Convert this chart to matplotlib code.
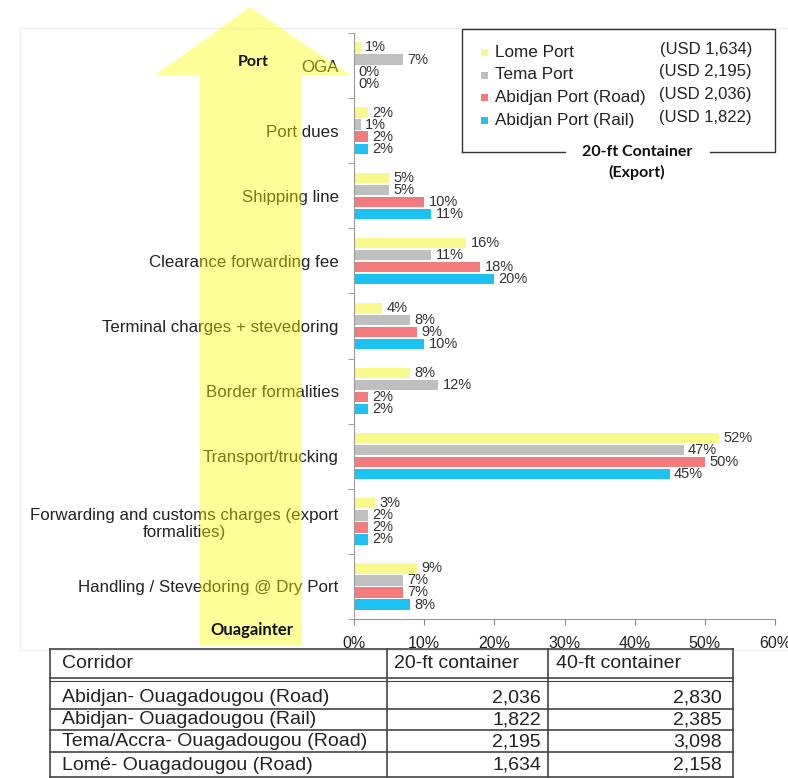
import numpy as np
import matplotlib.pyplot as plt
from matplotlib.patches import Polygon, Rectangle

plt.rcParams['font.family'] = ['Liberation Sans', 'DejaVu Sans']

# cost breakdown per 20-ft export container (share of total, %)
categories = ["OGA", "Port dues", "Shipping line", "Clearance forwarding fee",
              "Terminal charges + stevedoring", "Border formalities",
              "Transport/trucking",
              "Forwarding and customs charges (export\nformalities)",
              "Handling / Stevedoring @ Dry Port"]
ports = ["Lome Port", "Tema Port", "Abidjan Port (Road)", "Abidjan Port (Rail)"]
port_totals = ["(USD 1,634)", "(USD 2,195)", "(USD 2,036)", "(USD 1,822)"]
lome = [1, 2, 5, 16, 4, 8, 52, 3, 9]
tema = [7, 1, 5, 11, 8, 12, 47, 2, 7]
abidjan_road = [0, 2, 10, 18, 9, 2, 50, 2, 7]
abidjan_rail = [0, 2, 11, 20, 10, 2, 45, 2, 8]
colors = ["#f8f88c", "#bfbfbf", "#f47b7b", "#1cc2f2"]

# corridor totals table (USD)
table_header = ["Corridor", "20-ft container", "40-ft container"]
corridors = ["Abidjan- Ouagadougou (Road)", "Abidjan- Ouagadougou (Rail)",
             "Tema/Accra- Ouagadougou (Road)", "Lomé- Ouagadougou (Road)"]
cost_20ft = ["2,036", "1,822", "2,195", "1,634"]
cost_40ft = ["2,830", "2,385", "3,098", "2,158"]

W, H = 788, 778
fig = plt.figure(figsize=(W / 100, H / 100), dpi=100)

ax = fig.add_axes([354 / W, 1 - 619 / H, 421 / W, 586 / H])
series = [lome, tema, abidjan_road, abidjan_rail]
y = np.arange(len(categories))
step, bh = 0.185, 0.16
for k, (vals, col) in enumerate(zip(series, colors)):
    pos = y + (k - 1.5) * step
    ax.barh(pos, vals, height=bh, color=col, zorder=2)
    for p, v in zip(pos, vals):
        ax.text(v + 0.6, p, f"{v}%", va="center", ha="left",
                fontsize=10.5, color="#333333")

ax.set_xlim(0, 60)
ax.set_ylim(len(categories) - 0.5, -0.5)
ax.set_xticks(range(0, 61, 10))
ax.set_xticklabels([f"{t}%" for t in range(0, 61, 10)], fontsize=11.5, color="#222222")
ax.set_yticks(y)
ax.set_yticklabels(categories, fontsize=12.2, color="#222222")
for lab in ax.get_yticklabels():
    lab.set_multialignment("center")
ax.set_yticks(np.arange(-0.5, len(categories)), minor=True)
ax.tick_params(axis="y", which="major", length=0, pad=11)
ax.tick_params(axis="y", which="minor", length=4, color="#888888")
ax.tick_params(axis="x", length=4, color="#888888", pad=8)
for s in ["top", "right"]:
    ax.spines[s].set_visible(False)
for s in ["left", "bottom"]:
    ax.spines[s].set_color("#999999")

# overlay in pixel coordinates for arrow, legend and table
ov = fig.add_axes([0, 0, 1, 1], zorder=5)
ov.set_xlim(0, W)
ov.set_ylim(H, 0)
ov.axis("off")

ov.add_patch(Rectangle((20, 28), 780, 622, fill=False, ec="#f0f0f0", lw=1))

arrow = [(250, 7), (350, 75), (302, 75), (302, 645), (200, 645),
         (200, 75), (155, 75)]
ov.add_patch(Polygon(arrow, closed=True, fc="#ffff00", ec="none", alpha=0.4))
ov.text(253, 62, "Port", fontsize=11.5, fontweight="bold", family="Lato",
        ha="center", va="center", color="#111111")
ov.text(252, 630, "Ouagainter", fontsize=12, fontweight="bold", family="Lato",
        ha="center", va="center", color="#111111")

# legend box
ov.plot([462, 462, 775, 775, 710], [152, 29, 29, 152, 152], color="#333333", lw=1)
ov.plot([462, 565], [152, 152], color="#333333", lw=1)
ov.text(637, 152, "20-ft Container", fontsize=11.5, fontweight="bold", family="Lato",
        ha="center", va="center", color="#111111")
ov.text(637, 172, "(Export)", fontsize=11.5, fontweight="bold", family="Lato",
        ha="center", va="center", color="#111111")
for i, (name, tot, col) in enumerate(zip(ports, port_totals, colors)):
    yy = 52 + i * 22.7
    ov.add_patch(Rectangle((481, yy - 3), 7, 7, fc=col, ec="none"))
    ov.text(495, yy, name, fontsize=12.3, va="center", ha="left", color="#222222")
    ov.text(752, yy - 3, tot, fontsize=12, va="center", ha="right", color="#222222")

# table
tl, tr = 50, 733
cols = [387, 548]
hlines = [649, 678, 709, 730, 752, 777]
lc = "#444444"
for yy in hlines:
    ov.plot([tl, tr], [yy, yy], color=lc, lw=1.2)
ov.plot([tl, tr], [681, 681], color=lc, lw=0.8)
for xx in [tl] + cols + [tr]:
    ov.plot([xx, xx], [649, 777], color=lc, lw=1.2)
ov.text(62, 664, table_header[0], fontsize=14, va="center", ha="left", color="#222222")
ov.text(394, 664, table_header[1], fontsize=14, va="center", ha="left", color="#222222")
ov.text(556, 664, table_header[2], fontsize=14, va="center", ha="left", color="#222222")
row_y = [698, 720, 742, 765]
for yy, name, a, b in zip(row_y, corridors, cost_20ft, cost_40ft):
    ov.text(62, yy, name, fontsize=14, va="center", ha="left", color="#222222")
    ov.text(541, yy, a, fontsize=14, va="center", ha="right", color="#222222")
    ov.text(722, yy, b, fontsize=14, va="center", ha="right", color="#222222")

fig.savefig("out.png", dpi=100)
